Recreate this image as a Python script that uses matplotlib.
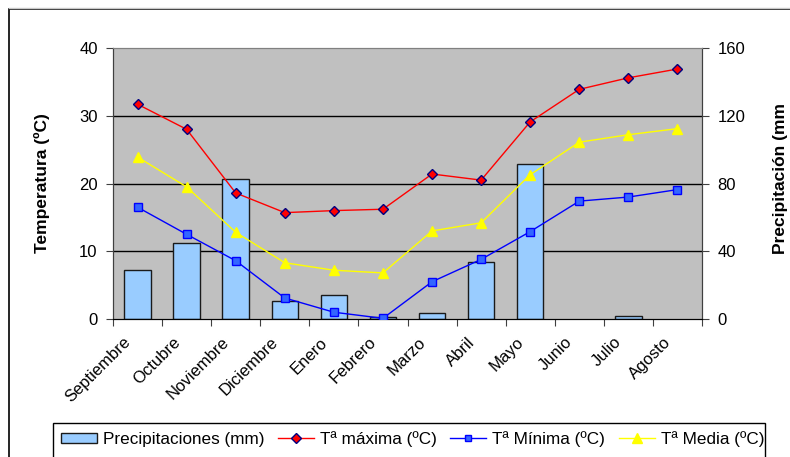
import numpy as np
import matplotlib.pyplot as plt
from matplotlib.patches import Rectangle
from matplotlib.lines import Line2D
from matplotlib.transforms import ScaledTranslation

plt.rcParams['font.family'] = ['Liberation Sans', 'DejaVu Sans']

meses = ['Septiembre', 'Octubre', 'Noviembre', 'Diciembre', 'Enero', 'Febrero',
         'Marzo', 'Abril', 'Mayo', 'Junio', 'Julio', 'Agosto']
precip = [28.9, 44.7, 82.6, 10.4, 14.0, 1.2, 3.5, 33.5, 91.7, 0.0, 2.0, 0.0]
t_max = [31.7, 28.0, 18.6, 15.7, 16.0, 16.2, 21.4, 20.5, 29.1, 33.9, 35.6, 36.9]
t_min = [16.5, 12.5, 8.6, 3.1, 1.0, 0.1, 5.5, 8.8, 12.9, 17.4, 18.0, 19.1]
t_med = [23.9, 19.5, 12.8, 8.3, 7.2, 6.8, 13.0, 14.2, 21.3, 26.1, 27.2, 28.1]

W, H = 790, 457
fig = plt.figure(figsize=(W / 100, H / 100), dpi=100)

# outer chart frame (runs off the right and bottom edges)
fig.patches.append(Rectangle((9 / W, -0.1), 1.2, (H - 9) / H + 0.1, transform=fig.transFigure,
                             fill=False, edgecolor='black', lw=1.2, clip_on=False))
fig.add_artist(Line2D([9 / W, 1.0], [(H - 7.5) / H] * 2, color='#c8c8c8', lw=1.0))

x0, x1, ytop, ybot = 113, 702, 48, 319
ax2 = fig.add_axes([x0 / W, (H - ybot) / H, (x1 - x0) / W, (ybot - ytop) / H])
ax = ax2.twinx()
ax.yaxis.tick_left()
ax.yaxis.set_label_position('left')
ax2.yaxis.tick_right()
ax2.yaxis.set_label_position('right')

ax.set_zorder(ax2.get_zorder() + 1)
ax.patch.set_visible(False)
ax2.set_facecolor('#c0c0c0')

x = np.arange(len(meses))

# precipitation bars on the right axis (no outline for empty months)
ax2.bar(x, precip, width=0.54, color='#99ccff', edgecolor='#1a1a1a',
        lw=[1.0 if p > 0 else 0 for p in precip], zorder=2)
ax2.set_ylim(0, 160)
ax2.set_yticks([0, 40, 80, 120, 160])
for v in [40, 80, 120]:
    ax2.axhline(v, color='black', lw=1.0, zorder=1)

# temperature lines on the left axis
ax.plot(x, t_max, color='#ff0000', lw=1.0, marker='D', ms=5.5,
        mfc='#ff0000', mec='#000080', mew=1.0, zorder=3)
ax.plot(x, t_min, color='#0000ff', lw=1.0, marker='s', ms=5.5,
        mfc='#3366ff', mec='#0000ff', mew=1.0, zorder=3)
ax.plot(x, t_med, color='#ffff00', lw=1.0, marker='^', ms=7.5,
        mfc='#ffff00', mec='#ffff00', mew=1.0, zorder=3)
ax.set_ylim(0, 40)
ax.set_yticks([0, 10, 20, 30, 40])
ax.set_xlim(-0.5, len(meses) - 0.5)

ax2.set_xticks(np.arange(len(meses) + 1) - 0.5)
ax2.set_xticklabels([])
ax2.set_xticks(x, minor=True)
ax2.set_xticklabels(meses, minor=True, rotation=45, ha='right', va='center',
                    rotation_mode='anchor', fontsize=12)
ax2.tick_params(axis='x', which='major', direction='out', length=5, color='#404040')
ax2.tick_params(axis='x', which='minor', length=0, pad=15)
shift = ScaledTranslation(-9 / 100, 0, fig.dpi_scale_trans)
for lab in ax2.get_xticklabels(minor=True):
    lab.set_transform(lab.get_transform() + shift)

ax.tick_params(axis='y', direction='out', length=5, labelsize=12, pad=6, color='#404040')
ax2.tick_params(axis='y', direction='out', length=5, labelsize=12, pad=6, color='#404040')

for a in (ax, ax2):
    a.spines['top'].set_color('#808080')
    a.spines['left'].set_color('#404040')
    a.spines['right'].set_color('#404040')
    a.spines['bottom'].set_color('black')

fig.text(42 / W, 1 - 183 / H, 'Temperatura (ºC)', rotation=90, fontsize=12.5,
         fontweight='bold', ha='center', va='center')
fig.text(780 / W, 1 - 254 / H, 'Precipitación (mm', rotation=90, fontsize=12.5,
         fontweight='bold', ha='center', va='bottom')

# legend box (also runs off the bottom edge)
fig.patches.append(Rectangle((53 / W, -0.1), (765 - 53) / W, (H - 423) / H + 0.1,
                             transform=fig.transFigure, facecolor='white',
                             edgecolor='black', lw=1.0, clip_on=False))
handles = [
    Rectangle((0, 0), 1, 1, facecolor='#99ccff', edgecolor='#1a1a1a', lw=1.0),
    Line2D([], [], color='#ff0000', lw=1.0, marker='D', ms=5, mfc='#ff0000', mec='#000080'),
    Line2D([], [], color='#0000ff', lw=1.0, marker='s', ms=5, mfc='#3366ff', mec='#0000ff'),
    Line2D([], [], color='#ffff00', lw=1.0, marker='^', ms=7, mfc='#ffff00', mec='#ffff00'),
]
labels = ['Precipitaciones (mm)', 'Tª máxima (ºC)', 'Tª Mínima (ºC)', 'Tª Media (ºC)']
fig.legend(handles, labels, loc='center left', bbox_to_anchor=(61 / W, 1 - 439 / H),
           ncol=4, frameon=False, fontsize=12.3, handlelength=2.1, handletextpad=0.35,
           columnspacing=0.8, borderaxespad=0, borderpad=0, handleheight=0.55)

fig.savefig('out.png', dpi=100)
